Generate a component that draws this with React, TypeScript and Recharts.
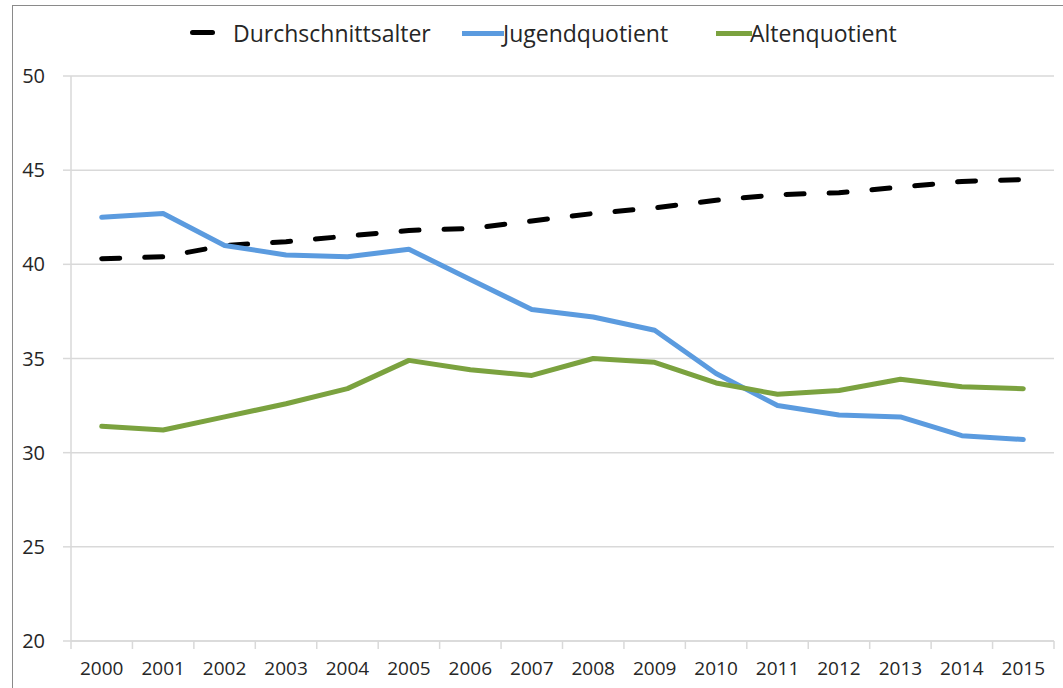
import React from "react";
import { LineChart, Line, XAxis, YAxis, CartesianGrid } from "recharts";

const years = ["2000", "2001", "2002", "2003", "2004", "2005", "2006", "2007", "2008", "2009", "2010", "2011", "2012", "2013", "2014", "2015"];
const durchschnittsalter = [40.3, 40.4, 41.0, 41.2, 41.5, 41.8, 41.9, 42.3, 42.7, 43.0, 43.4, 43.7, 43.8, 44.1, 44.4, 44.5];
const jugendquotient = [42.5, 42.7, 41.0, 40.5, 40.4, 40.8, 39.2, 37.6, 37.2, 36.5, 34.2, 32.5, 32.0, 31.9, 30.9, 30.7];
const altenquotient = [31.4, 31.2, 31.9, 32.6, 33.4, 34.9, 34.4, 34.1, 35.0, 34.8, 33.7, 33.1, 33.3, 33.9, 33.5, 33.4];
const yTicks = [20, 25, 30, 35, 40, 45, 50];

const data = years.map((y, i) => ({
  year: y,
  alter: durchschnittsalter[i],
  jugend: jugendquotient[i],
  alten: altenquotient[i],
}));

const FONT = "'Open Sans', sans-serif";
const TEXT = "#262626";
const GRID = "#d9d9d9";
const BLUE = "#5b9bdf";
const GREEN = "#7ba23f";

const XTick = (props: any) => {
  const { x, y, payload, width, index } = props;
  const band = width / years.length;
  return (
    <g>
      <line x1={x - band / 2} x2={x - band / 2} y1={y - 8} y2={y} stroke={GRID} strokeWidth={1.5} />
      {index === years.length - 1 && (
        <line x1={x + band / 2} x2={x + band / 2} y1={y - 8} y2={y} stroke={GRID} strokeWidth={1.5} />
      )}
      <text x={x} y={y + 26} textAnchor="middle" fill={TEXT} fontSize={19} fontFamily={FONT}>
        {payload.value}
      </text>
    </g>
  );
};

const legendText: React.CSSProperties = {
  position: "absolute",
  top: 17,
  fontFamily: FONT,
  fontSize: 23,
  lineHeight: "32px",
  color: TEXT,
  whiteSpace: "nowrap",
};

// legend drawn as plain html over the chart
const LegendBox = () => (
  <>
    <div style={{ position: "absolute", left: 190, top: 30, width: 25, height: 5, borderRadius: 3, background: "#000" }} />
    <div style={{ ...legendText, left: 233 }}>Durchschnittsalter</div>
    <div style={{ position: "absolute", left: 462, top: 31, width: 42, height: 5, background: BLUE }} />
    <div style={{ ...legendText, left: 503 }}>Jugendquotient</div>
    <div style={{ position: "absolute", left: 716, top: 31, width: 36, height: 5, background: GREEN }} />
    <div style={{ ...legendText, left: 750 }}>Altenquotient</div>
  </>
);

export default function App() {
  return (
    <div style={{ position: "fixed", left: 0, top: 0, width: 1063, height: 688, background: "#fff", overflow: "hidden" }}>
      <style>{`html, body { margin: 0; overflow: hidden; } svg:focus, .recharts-wrapper:focus { outline: none; }`}</style>
      <div style={{ position: "absolute", left: 12, top: 5, width: 1051, height: 683, borderLeft: "1.5px solid #8a8a8a", borderTop: "1.5px solid #8a8a8a", boxSizing: "border-box" }} />
      <LegendBox />
      <div style={{ position: "absolute", left: 0, top: 0 }}>
        <LineChart width={1063} height={688} data={data} margin={{ top: 76, right: 9, bottom: 0, left: 0 }} accessibilityLayer={false}>
          <CartesianGrid vertical={false} stroke={GRID} strokeWidth={1.5} />
          <XAxis
            dataKey="year"
            scale="band"
            height={47}
            axisLine={{ stroke: GRID, strokeWidth: 1.5 }}
            tickLine={false}
            tick={<XTick />}
            interval={0}
          />
          <YAxis
            domain={[20, 50]}
            ticks={yTicks}
            width={71}
            axisLine={{ stroke: GRID, strokeWidth: 1.5 }}
            tickLine={{ stroke: GRID, strokeWidth: 1.5 }}
            tickSize={8}
            tickMargin={18}
            tick={{ fill: TEXT, fontSize: 20, fontFamily: FONT }}
          />
          <Line dataKey="alter" stroke="#000" strokeWidth={5} strokeDasharray="18 25" strokeLinecap="round" dot={false} isAnimationActive={false} />
          <Line dataKey="jugend" stroke={BLUE} strokeWidth={5} strokeLinecap="round" strokeLinejoin="round" dot={false} isAnimationActive={false} />
          <Line dataKey="alten" stroke={GREEN} strokeWidth={5} strokeLinecap="round" strokeLinejoin="round" dot={false} isAnimationActive={false} />
        </LineChart>
      </div>
    </div>
  );
}
